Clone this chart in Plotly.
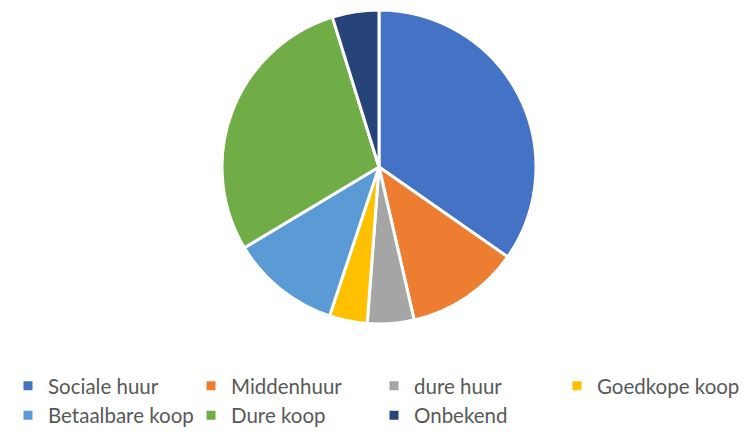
import plotly.graph_objects as go

labels = ["Sociale huur", "Middenhuur", "dure huur", "Goedkope koop",
          "Betaalbare koop", "Dure koop", "Onbekend"]
values = [34.7, 11.7, 4.8, 3.9, 11.3, 28.8, 4.8]
colors = ["#4472C4", "#ED7D31", "#A5A5A5", "#FFC000",
          "#5B9BD5", "#70AD47", "#264478"]

W, H = 751, 433
# page body adds an 8px offset, so positions are given in figure coordinates
cx, cy, r = 371, 159, 157

fig = go.Figure(go.Pie(
    labels=labels, values=values, sort=False, direction="clockwise",
    rotation=0, textinfo="none", hoverinfo="label+percent",
    marker=dict(colors=colors, line=dict(color="white", width=3)),
    domain=dict(x=[(cx - r) / W, (cx + r) / W],
                y=[(H - cy - r) / H, (H - cy + r) / H]),
))

fig.update_layout(
    width=W, height=H,
    margin=dict(l=0, r=0, t=0, b=0, autoexpand=False),
    paper_bgcolor="white", plot_bgcolor="white",
    showlegend=True,
    legend=dict(orientation="h", xref="container", yref="container",
                x=0, xanchor="left", y=0.012, yanchor="bottom",
                entrywidth=138, entrywidthmode="pixels", traceorder="normal",
                font=dict(family="Lato", size=20.5, color="#595959")),
)

fig.write_html("out.html")
